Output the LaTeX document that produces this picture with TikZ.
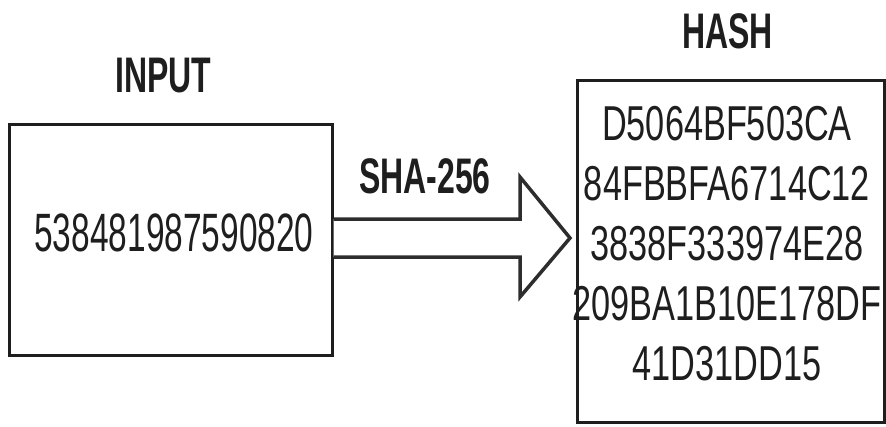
\documentclass[tikz,border=0pt]{standalone}
\usepackage{fontspec}
\setmainfont{Liberation Sans}
\newfontfamily\titlefont[FakeStretch=0.64]{Liberation Sans Bold}
\newfontfamily\hashfont[FakeStretch=0.70]{Liberation Sans}
\newfontfamily\numfont[FakeStretch=0.62]{Liberation Sans}
\definecolor{ink}{RGB}{30,30,30}
\definecolor{arrowgray}{RGB}{45,45,45}
\tikzset{
  box/.style={draw=ink, line width=3pt, inner sep=0pt},
  title/.style={text=ink, font=\titlefont\fontsize{50}{50}\selectfont, inner sep=0pt},
  hashtext/.style={text=ink, font=\hashfont\fontsize{49}{60}\selectfont, align=center, inner sep=0pt},
  numtext/.style={text=ink, font=\numfont\fontsize{54}{54}\selectfont, inner sep=0pt},
  blockarrow/.style={draw=arrowgray, line width=3.5pt, fill=white, line join=miter}
}
\begin{document}
\begin{tikzpicture}[x=1pt,y=-1pt]
\useasboundingbox (0,0) rectangle (886,426);
\node[box, minimum width=323pt, minimum height=231pt] (in) at (170.5,239.5) {};
\node[numtext] (num) at (174,233) {538481987590820};
\node[title] (intitle) at (163.5,75.5) {INPUT};
\node[box, minimum width=307pt, minimum height=342pt] (hash) at (730.5,251) {};
\node[hashtext] (hashval) at (727,244) {D5064BF503CA\\84FBBFA6714C12\\3838F333974E28\\209BA1B10E178DF\\41D31DD15};
\node[title] (hashtitle) at (727.5,31.5) {HASH};
\node[title] (sha) at (425,176) {SHA-256};
\coordinate (tip) at (570,238);
\draw[blockarrow] (in.east |- 0,219) -- (520,219) -- (520,177) -- (tip) -- (520,297) -- (520,257) -- (in.east |- 0,257);
\end{tikzpicture}
\end{document}
